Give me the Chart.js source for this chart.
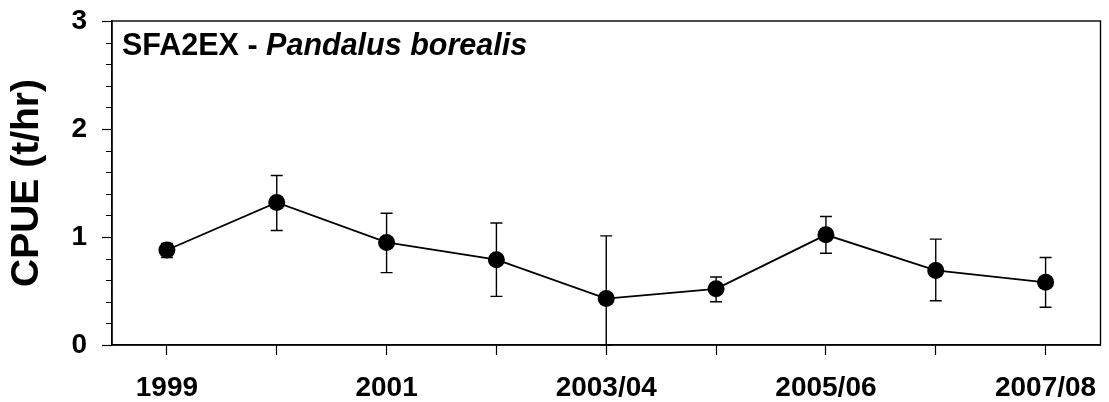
<!DOCTYPE html>
<html>
<head>
<meta charset="utf-8">
<script src="https://cdn.jsdelivr.net/npm/chart.js@4/dist/chart.umd.min.js"></script>
<style>
  html, body { margin: 0; padding: 0; background: #fff; }
  #wrap { width: 1109px; height: 402px; position: relative; }
</style>
</head>
<body>
<div id="wrap"><canvas id="c"></canvas></div>
<script>
// Fishing seasons and CPUE (t/hr) with error-bar limits
const seasons = ['1999', '2000', '2001', '2002', '2003/04', '2004/05', '2005/06', '2006/07', '2007/08'];
const seasonTickLabels = ['1999', '', '2001', '', '2003/04', '', '2005/06', '', '2007/08'];
const cpue = [0.88, 1.32, 0.95, 0.79, 0.43, 0.52, 1.02, 0.69, 0.58];
const cpueLower = [0.81, 1.06, 0.67, 0.45, 0.0, 0.40, 0.85, 0.41, 0.35];
const cpueUpper = [0.94, 1.57, 1.22, 1.13, 1.01, 0.63, 1.19, 0.98, 0.81];
const yTicks = [0, 1, 2, 3];

const FONT = "'Liberation Sans', Arial, sans-serif";
const INK = '#000';

const isMajor = v => Math.abs(v - Math.round(v)) < 1e-6;

// Vertical error bars with caps, drawn under the markers
const errorBars = {
  id: 'errorBars',
  beforeDatasetsDraw(chart) {
    const { ctx, scales: { x, y } } = chart;
    ctx.save();
    ctx.strokeStyle = INK;
    ctx.lineWidth = 1.4;
    const cap = 6;
    cpue.forEach((v, i) => {
      const px = x.getPixelForValue(i);
      const yl = y.getPixelForValue(cpueLower[i]);
      const yh = y.getPixelForValue(cpueUpper[i]);
      ctx.beginPath();
      ctx.moveTo(px, yl); ctx.lineTo(px, yh);
      ctx.moveTo(px - cap, yh); ctx.lineTo(px + cap, yh);
      ctx.moveTo(px - cap, yl); ctx.lineTo(px + cap, yl);
      ctx.stroke();
    });
    ctx.restore();
  }
};

// Frame around the plot, short minor ticks on the value axis, and the panel label
const frameAndLabel = {
  id: 'frameAndLabel',
  afterDraw(chart) {
    const { ctx, chartArea: a, scales: { y } } = chart;
    ctx.save();
    ctx.strokeStyle = INK;
    ctx.lineWidth = 1.4;
    ctx.strokeRect(a.left, a.top, a.right - a.left, a.bottom - a.top);
    ctx.beginPath();
    y.ticks.forEach(t => {
      if (!isMajor(t.value)) {
        const py = Math.round(y.getPixelForValue(t.value)) + 0.5;
        ctx.moveTo(a.left - 6, py);
        ctx.lineTo(a.left, py);
      }
    });
    ctx.lineWidth = 1.2;
    ctx.stroke();

    ctx.fillStyle = INK;
    ctx.textBaseline = 'alphabetic';
    ctx.textAlign = 'left';
    const x0 = a.left + 10, yb = a.top + 34;
    ctx.font = `bold 30.5px ${FONT}`;
    const part1 = 'SFA2EX - ';
    ctx.fillText(part1, x0, yb);
    const w1 = ctx.measureText(part1).width;
    ctx.font = `italic bold 30.5px ${FONT}`;
    ctx.fillText('Pandalus borealis', x0 + w1, yb);
    ctx.restore();
  }
};

new Chart(document.getElementById('c'), {
  type: 'line',
  data: {
    labels: seasons,
    datasets: [{
      data: cpue,
      borderColor: INK,
      borderWidth: 1.8,
      backgroundColor: INK,
      pointBackgroundColor: INK,
      pointBorderColor: INK,
      pointRadius: 8.5,
      pointBorderWidth: 0,
      tension: 0,
      fill: false
    }]
  },
  options: {
    responsive: true,
    maintainAspectRatio: false,
    animation: false,
    events: [],
    layout: { padding: { top: 21, right: 5, left: 0, bottom: 0 } },
    plugins: { legend: { display: false }, tooltip: { enabled: false }, title: { display: false } },
    scales: {
      x: {
        type: 'category',
        offset: true,
        afterFit(s) { s.height = 57; s.paddingLeft = 0; s.paddingRight = 0; },
        border: { display: true, color: INK, width: 1.4 },
        grid: {
          display: true, drawOnChartArea: false, drawTicks: true, offset: false,
          tickLength: 10, tickColor: INK, tickWidth: 1.2
        },
        ticks: {
          autoSkip: false, maxRotation: 0, color: INK, padding: 16,
          font: { family: FONT, size: 28, weight: 'bold' },
          callback: (v, i) => seasonTickLabels[i]
        }
      },
      y: {
        min: 0, max: 3,
        afterFit(s) { s.width = 112; s.paddingTop = 0; s.paddingBottom = 0; },
        afterBuildTicks(s) {
          // major ticks at whole numbers, minor every 0.2
          const out = [];
          for (let k = 0; k < yTicks.length; k++) {
            out.push({ value: yTicks[k] });
            if (k < yTicks.length - 1) {
              for (let m = 1; m < 5; m++) out.push({ value: yTicks[k] + m * (yTicks[k + 1] - yTicks[k]) / 5 });
            }
          }
          s.ticks = out;
        },
        border: { display: true, color: INK, width: 1.4 },
        grid: {
          display: true, drawOnChartArea: false, drawTicks: true,
          tickLength: 10, tickWidth: 1.2,
          tickColor: c => (c.tick && isMajor(c.tick.value)) ? INK : 'rgba(0,0,0,0)'
        },
        ticks: {
          autoSkip: false, color: INK, padding: 15,
          font: { family: FONT, size: 28, weight: 'bold' },
          callback: v => isMajor(v) ? String(Math.round(v)) : ''
        },
        title: {
          display: true, text: 'CPUE (t/hr)', color: INK,
          font: { family: FONT, size: 39, weight: 'bold' },
          padding: { top: 4, bottom: 0 }
        }
      }
    }
  },
  plugins: [errorBars, frameAndLabel]
});
</script>
</body>
</html>
